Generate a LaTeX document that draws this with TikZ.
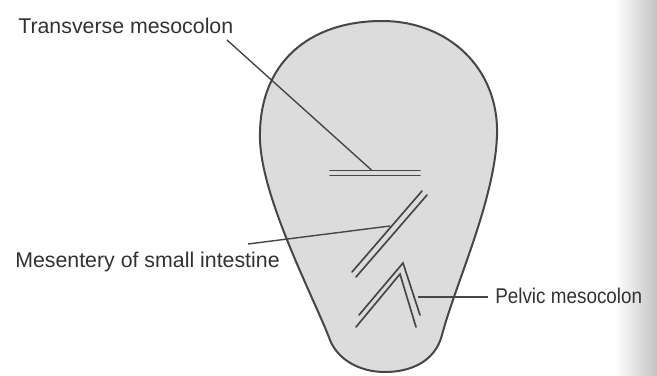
\documentclass[tikz,border=0pt]{standalone}
\usepackage{fontspec}
\setmainfont{Liberation Sans}
\definecolor{bodyfill}{RGB}{220,220,220}
\definecolor{inkline}{RGB}{70,70,70}
\definecolor{inktext}{RGB}{50,50,50}
\definecolor{curlgray}{RGB}{195,195,195}
\tikzset{
  outline/.style={draw=inkline, line width=1.5pt, fill=bodyfill, line join=round},
  fold/.style={draw=inkline, line width=1.25pt, line cap=round, line join=miter},
  leader/.style={draw=inkline, line width=1.05pt},
  lbl/.style={inner sep=0pt, text=inktext, font=\fontsize{16}{19}\selectfont}
}
\begin{document}
\begin{tikzpicture}[x=0.75pt,y=-0.75pt]
\useasboundingbox (0,0) rectangle (657,375);
\fill[white] (0,0) rectangle (657,375);
\shade[left color=white, right color=curlgray] (615,0) rectangle (657,375);

% body outline
\path[outline] (382,21) .. controls (448,21) and (499,68) .. (497,135)
  .. controls (495,200) and (455,285) .. (442,335)
  .. controls (435,362) and (410,372) .. (385,372)
  .. controls (360,372) and (338,360) .. (330,340)
  .. controls (315,300) and (262,200) .. (260,140)
  .. controls (258,62) and (310,21) .. (382,21) -- cycle;

% transverse mesocolon
\draw[fold] (330,170.5) -- (420,170.5);
\draw[fold] (330,175.5) -- (420,175.5);
% mesentery of small intestine
\draw[fold] (352,272) -- (422,191);
\draw[fold] (356,277) -- (427,195);
% pelvic mesocolon
\draw[fold] (359,315) -- (403,263) -- (420,315);
\draw[fold] (356,327) -- (400,274) -- (416,327);

% labels
\node[lbl, anchor=base west] (tm) at (18,33) {Transverse mesocolon};
\node[lbl, anchor=base west] (ms) at (15,267) {Mesentery of small intestine};
\node[lbl, anchor=base west] (pm) at (495,303) {\scalebox{0.885}[1]{Pelvic mesocolon}};

% leader ends
\coordinate (tmS) at (227,40);
\coordinate (tmE) at (372,170.5);
\coordinate (msS) at (248,244);
\coordinate (msE) at (390,226);
\coordinate (pmS) at (488,297);
\coordinate (pmE) at (418,297);

\draw[leader] (tmS) -- (tmE);
\draw[leader] (msS) -- (msE);
\draw[leader] (pmS) -- (pmE);
\end{tikzpicture}
\end{document}
